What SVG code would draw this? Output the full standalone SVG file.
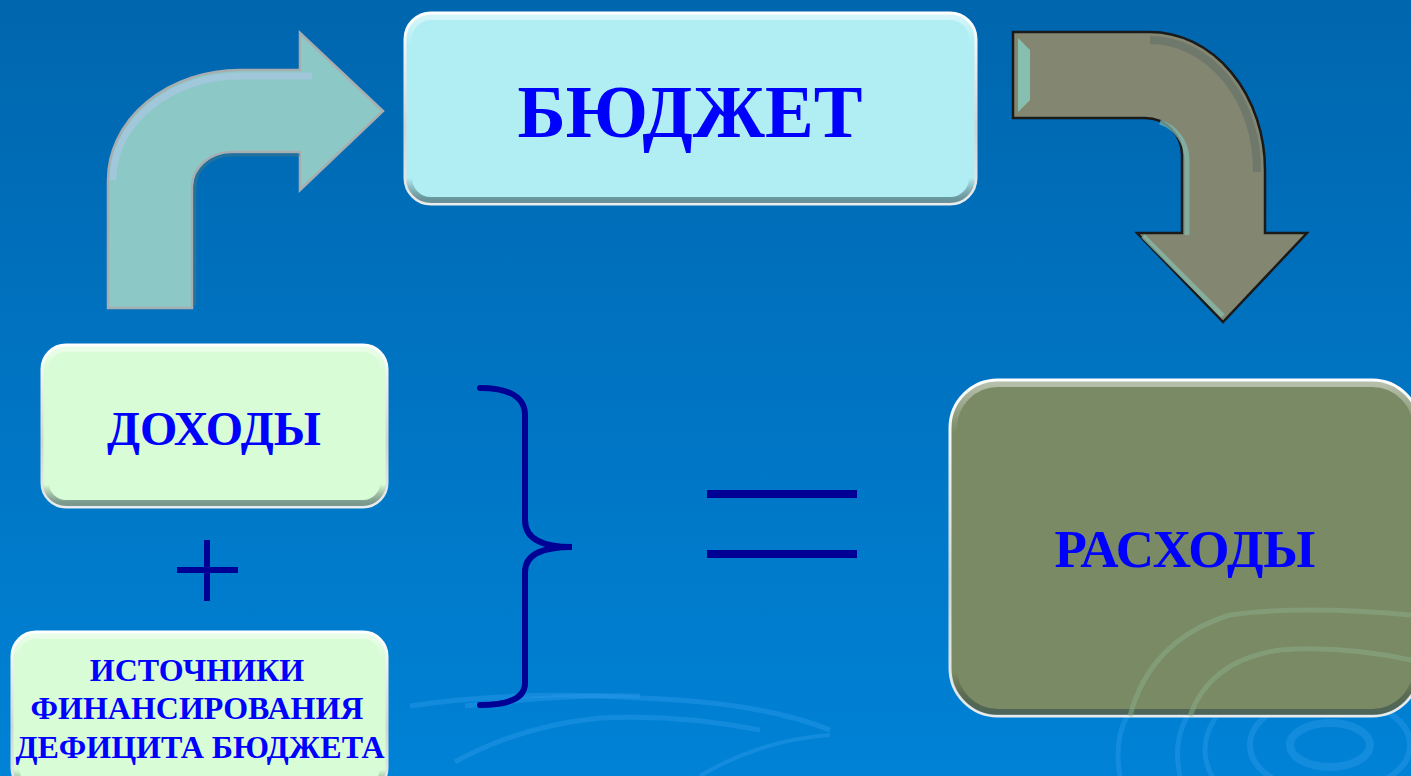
<svg xmlns="http://www.w3.org/2000/svg" width="1411" height="776" viewBox="0 0 1411 776">
<style>
.lbl{font-family:"Liberation Serif","Times New Roman",serif;font-weight:bold;fill:#0000FF;text-anchor:middle}
.sym{stroke:#000094;fill:none}
.swirl{fill:none;stroke:#2A98E8;stroke-opacity:0.45}
.rim{stroke:url(#bevel);stroke-width:3}
.inner{fill:none;stroke:url(#bevel2);stroke-width:6}
</style>
<defs>
<linearGradient id="bg" x1="0" y1="0" x2="0" y2="1">
<stop offset="0" stop-color="#0066AE"/>
<stop offset="1" stop-color="#0082D6"/>
</linearGradient>
<linearGradient id="bevel" x1="0" y1="0" x2="0" y2="1">
<stop offset="0" stop-color="#FFFFFF"/>
<stop offset="0.6" stop-color="#D0D6D6"/>
<stop offset="1" stop-color="#E8ECEC"/>
</linearGradient>
<linearGradient id="bevel2" x1="0" y1="0" x2="0" y2="1">
<stop offset="0" stop-color="#FFFFFF" stop-opacity="0.45"/>
<stop offset="0.15" stop-color="#FFFFFF" stop-opacity="0"/>
<stop offset="0.88" stop-color="#000000" stop-opacity="0"/>
<stop offset="1" stop-color="#2A4850" stop-opacity="0.55"/>
</linearGradient>
</defs>
<rect width="1411" height="776" fill="url(#bg)"/>
<g id="background-swirls">
<path class="swirl" stroke-width="5" d="M410,706 Q520,690 640,698 Q760,702 830,730"/>
<path class="swirl" stroke-width="5" d="M465,706 Q560,694 640,696"/>
<path class="swirl" stroke-width="5" d="M455,762 Q520,726 600,718 Q680,714 760,730"/>
<path class="swirl" stroke-width="4" d="M700,776 Q760,740 830,735"/>
<path class="swirl" stroke-width="5" d="M1120,776 Q1110,720 1150,690"/>
<path class="swirl" stroke-width="5" d="M1180,776 Q1170,730 1200,700"/>
<ellipse class="swirl" stroke-width="8" cx="1330" cy="745" rx="40" ry="22"/>
<ellipse class="swirl" stroke-width="6" cx="1330" cy="745" rx="80" ry="48"/>
<ellipse class="swirl" stroke-width="5" cx="1330" cy="750" rx="125" ry="80"/>
</g>
<g id="connectors">
<path id="arrow-income" d="M108,308 L108,180 A132,110 0 0 1 240,70 L300,70 L300,33 L383,111 L300,190 L300,152 L232,152 A40,35 0 0 0 192,187 L192,308 Z" fill="#8CC8C6" stroke="#A8AEB0" stroke-width="2.5"/>
<path d="M113,180 A127,104 0 0 1 240,76 L312,76" fill="none" stroke="#A8C6E2" stroke-width="7" stroke-opacity="0.7"/>
<path d="M195,305 L195,187 A37,32 0 0 1 232,155 L300,155" fill="none" stroke="#4E7A7C" stroke-width="3" stroke-opacity="0.45"/>
<path id="arrow-expense" d="M1013,32 L1150,32 A115,138 0 0 1 1265,170 L1265,233 L1307,233 L1223,322 L1137,233 L1182,233 L1182,155 A37,37 0 0 0 1145,118 L1013,118 Z" fill="#838670" stroke="#1A1A1A" stroke-width="2.5"/>
<path d="M1018,38 L1030,50 L1030,100 L1018,112" fill="#86BFB0" stroke="none"/>
<path d="M1187,235 L1187,160 A40,40 0 0 0 1160,122" fill="none" stroke="#80BCB4" stroke-width="5" stroke-opacity="0.7"/>
<path d="M1143,236 L1223,316" fill="none" stroke="#86BFB0" stroke-width="5" stroke-opacity="0.7"/>
<path d="M1257,172 A107,130 0 0 0 1150,40" fill="none" stroke="#3E5A60" stroke-width="8" stroke-opacity="0.3"/>
<path id="brace" class="sym" stroke-width="6" stroke-linecap="round" d="M480,388 C510,388 525,398 525,415 L525,520 C525,538 540,547 572,547 C540,547 525,556 525,572 L525,683 C525,698 510,705 480,705"/>
<g id="equals" fill="#000094">
<rect x="707" y="490" width="150" height="8"/>
<rect x="707" y="550" width="150" height="8"/>
</g>
<g id="plus" fill="#000094">
<rect x="177" y="567" width="61" height="6"/>
<rect x="204" y="540" width="6" height="61"/>
</g>
</g>
<g id="node-budget">
<rect class="rim" x="405" y="13" width="571" height="191" rx="26" fill="#B0EEF4"/>
<rect class="inner" x="409" y="17" width="563" height="183" rx="22"/>
<text class="lbl" x="690" y="137" font-size="73">БЮДЖЕТ</text>
</g>
<g id="node-income">
<rect class="rim" x="42" y="345" width="345" height="162" rx="24" fill="#D8FCD6"/>
<rect class="inner" x="46" y="349" width="337" height="154" rx="20"/>
<text class="lbl" x="214" y="445" font-size="48">ДОХОДЫ</text>
</g>
<g id="node-sources">
<rect class="rim" x="12" y="632" width="375" height="160" rx="24" fill="#D8FCD6"/>
<rect class="inner" x="16" y="636" width="367" height="152" rx="20"/>
<text class="lbl" font-size="32"><tspan x="197" y="681">ИСТОЧНИКИ</tspan><tspan x="197" y="719">ФИНАНСИРОВАНИЯ</tspan><tspan x="200" y="758">ДЕФИЦИТА БЮДЖЕТА</tspan></text>
</g>
<g id="node-expense">
<rect class="rim" x="950" y="380" width="470" height="336" rx="48" fill="#798A64"/>
<rect class="inner" x="954" y="384" width="462" height="328" rx="44"/>
<path fill="none" stroke="#8AAE8A" stroke-opacity="0.5" stroke-width="5" d="M1130,716 Q1150,640 1230,615 Q1300,605 1411,615"/>
<path fill="none" stroke="#8AAE8A" stroke-opacity="0.5" stroke-width="5" d="M1190,716 Q1210,660 1280,650 Q1340,645 1411,660"/>
<text class="lbl" x="1185" y="567" font-size="53">РАСХОДЫ</text>
</g>
</svg>
